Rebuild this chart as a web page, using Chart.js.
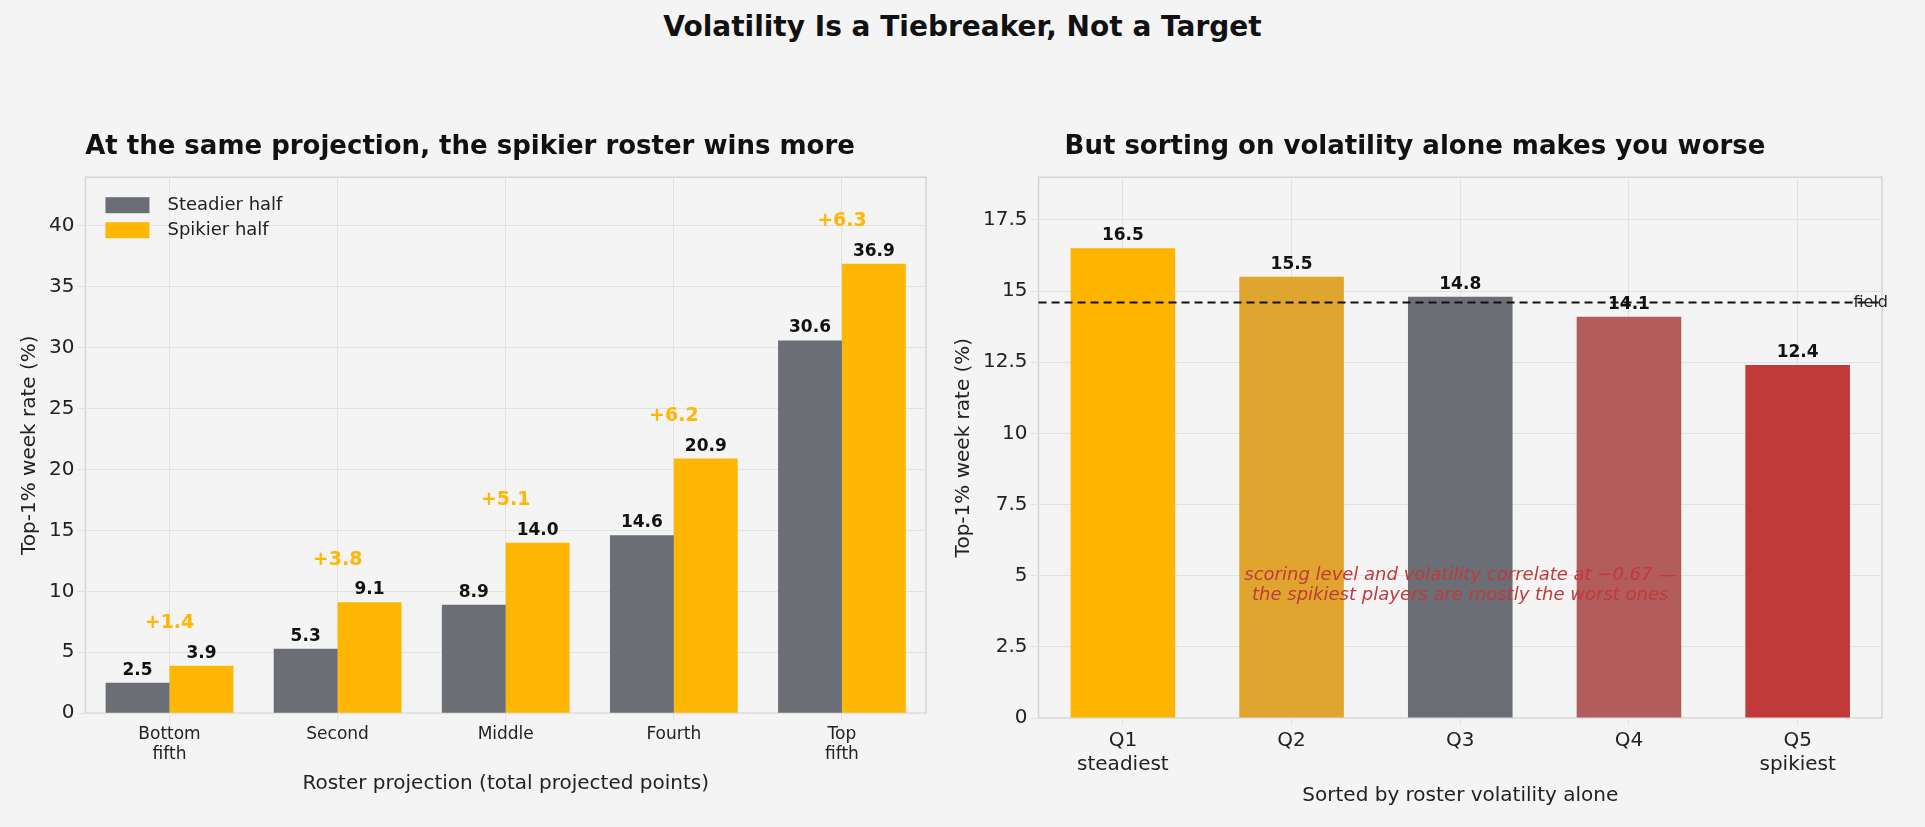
<!DOCTYPE html>
<html>
<head>
<meta charset="utf-8">
<script src="https://cdn.jsdelivr.net/npm/chart.js@4.4.0/dist/chart.umd.min.js"></script>
<style>
  body { margin: 0; background: #f4f4f4; font-family: "DejaVu Sans", sans-serif; }
  #title { position: absolute; top: 10px; left: 0; width: 1925px; text-align: center; font-weight: bold; font-size: 28px; color: #111; }
  .box { position: absolute; top: 132px; height: 690px; }
</style>
</head>
<body>
<div id="title">Volatility Is a Tiebreaker, Not a Target</div>
<div class="box" style="left:14px;width:918px"><canvas id="left"></canvas></div>
<div class="box" style="left:948px;width:944px"><canvas id="right"></canvas></div>
<script>
// Left panel data
const projBins = [["Bottom", "fifth"], "Second", "Middle", "Fourth", ["Top", "fifth"]];
const steadier = [2.5, 5.3, 8.9, 14.6, 30.6];
const spikier = [3.9, 9.1, 14.0, 20.9, 36.9];
const gaps = ["+1.4", "+3.8", "+5.1", "+6.2", "+6.3"];

// Right panel data
const volBins = [["Q1", "steadiest"], "Q2", "Q3", "Q4", ["Q5", "spikiest"]];
const volRates = [16.5, 15.5, 14.8, 14.1, 12.4];
const fieldRate = 14.6;

const GREY = "#6b6e75";
const GOLD = "#ffb703";
const volColors = ["#ffb400", "#e0a52e", "#6b6e75", "#b35c5c", "#c0393b"];

Chart.defaults.font.family = "'DejaVu Sans', sans-serif";
Chart.defaults.color = "#222";
Chart.defaults.animation = false;

// value labels over each bar
const barLabels = {
  id: "barLabels",
  afterDatasetsDraw(chart) {
    const ctx = chart.ctx;
    ctx.save();
    ctx.font = "bold 17px 'DejaVu Sans'";
    ctx.fillStyle = "#111";
    ctx.textAlign = "center";
    ctx.textBaseline = "bottom";
    chart.data.datasets.forEach((ds, i) => {
      chart.getDatasetMeta(i).data.forEach((bar, j) => {
        ctx.fillText(ds.data[j].toFixed(1), bar.x, bar.y - 4);
      });
    });
    ctx.restore();
  }
};

// gap labels and legend on left panel
const leftExtras = {
  id: "leftExtras",
  afterDatasetsDraw(chart) {
    const ctx = chart.ctx;
    const y = chart.scales.y;
    const a = chart.getDatasetMeta(0).data;
    const b = chart.getDatasetMeta(1).data;
    ctx.save();
    ctx.font = "bold 19px 'DejaVu Sans'";
    ctx.fillStyle = GOLD;
    ctx.textAlign = "center";
    ctx.textBaseline = "middle";
    gaps.forEach((g, i) => {
      ctx.fillText(g, (a[i].x + b[i].x) / 2, y.getPixelForValue(spikier[i] + 3.5));
    });
    // legend
    const lx = chart.chartArea.left + 20, ly = chart.chartArea.top + 28;
    ctx.font = "18px 'DejaVu Sans'";
    ctx.textAlign = "left";
    [["Steadier half", GREY], ["Spikier half", GOLD]].forEach((it, k) => {
      ctx.fillStyle = it[1];
      ctx.fillRect(lx, ly + k * 25 - 8, 44, 16);
      ctx.fillStyle = "#222";
      ctx.fillText(it[0], lx + 62, ly + k * 25);
    });
    ctx.restore();
  }
};

const rightExtras = {
  id: "rightExtras",
  afterDatasetsDraw(chart) {
    const ctx = chart.ctx;
    const ca = chart.chartArea;
    const y = chart.scales.y;
    ctx.save();
    const fy = y.getPixelForValue(fieldRate);
    ctx.strokeStyle = "#111";
    ctx.lineWidth = 2;
    ctx.setLineDash([8, 5]);
    ctx.beginPath();
    ctx.moveTo(ca.left, fy);
    ctx.lineTo(ca.right, fy);
    ctx.stroke();
    ctx.setLineDash([]);
    ctx.font = "16px 'DejaVu Sans'";
    ctx.fillStyle = "#222";
    ctx.textAlign = "right";
    ctx.textBaseline = "middle";
    ctx.fillText("field", ca.right + 6, fy);
    ctx.font = "italic 18px 'DejaVu Sans'";
    ctx.fillStyle = "#c0393b";
    ctx.textAlign = "center";
    const cx = chart.getDatasetMeta(0).data[2].x;
    ctx.fillText("scoring level and volatility correlate at \u22120.67 \u2014", cx, y.getPixelForValue(5.0));
    ctx.fillText("the spikiest players are mostly the worst ones", cx, y.getPixelForValue(4.3));
    ctx.restore();
  }
};

const frame = {
  id: "frame",
  beforeDraw(chart) {
    const ca = chart.chartArea, ctx = chart.ctx;
    ctx.save();
    ctx.strokeStyle = "#d4d4d4";
    ctx.lineWidth = 1.5;
    ctx.strokeRect(ca.left, ca.top, ca.right - ca.left, ca.bottom - ca.top);
    ctx.restore();
  }
};

function axisOpts(max, step, xTitle, xSize, yLabelMax) {
  return {
    x: {
      grid: { color: "#e2e2e2", offset: false },
      border: { display: false },
      ticks: { font: { size: xSize }, color: "#222" },
      title: { display: true, text: xTitle, font: { size: 20 }, color: "#222" }
    },
    y: {
      min: 0, max: max,
      grid: { color: "#e2e2e2" },
      border: { display: false },
      afterBuildTicks: s => { s.ticks = s.ticks.filter(t => t.value <= yLabelMax); },
      ticks: { stepSize: step, font: { size: 20 }, color: "#222",
        callback: v => step < 1 ? Number(v).toFixed(1) : v },
      title: { display: true, text: "Top-1% week rate (%)", font: { size: 20 }, color: "#222" }
    }
  };
}

new Chart(document.getElementById("left"), {
  type: "bar",
  data: {
    labels: projBins,
    datasets: [
      { label: "Steadier half", data: steadier, backgroundColor: GREY },
      { label: "Spikier half", data: spikier, backgroundColor: GOLD }
    ]
  },
  options: {
    responsive: true, maintainAspectRatio: false,
    categoryPercentage: 0.76, barPercentage: 1,
    layout: { padding: { left: 0, right: 6, bottom: 22 } },
    plugins: {
      legend: { display: false },
      tooltip: { enabled: false },
      title: { display: true, text: "At the same projection, the spikier roster wins more",
        font: { size: 26, weight: "bold" }, color: "#111", padding: { bottom: 14 } }
    },
    scales: axisOpts(44, 5, "Roster projection (total projected points)", 17, 40)
  },
  plugins: [frame, barLabels, leftExtras]
});

new Chart(document.getElementById("right"), {
  type: "bar",
  data: {
    labels: volBins,
    datasets: [
      { label: "rate", data: volRates, backgroundColor: volColors }
    ]
  },
  options: {
    responsive: true, maintainAspectRatio: false,
    categoryPercentage: 0.62, barPercentage: 1,
    layout: { padding: { left: 0, right: 10, bottom: 10 } },
    plugins: {
      legend: { display: false },
      tooltip: { enabled: false },
      title: { display: true, text: "But sorting on volatility alone makes you worse",
        font: { size: 26, weight: "bold" }, color: "#111", padding: { bottom: 14 } }
    },
    scales: axisOpts(19, 2.5, "Sorted by roster volatility alone", 20, 17.5)
  },
  plugins: [frame, barLabels, rightExtras]
});
</script>
</body>
</html>
